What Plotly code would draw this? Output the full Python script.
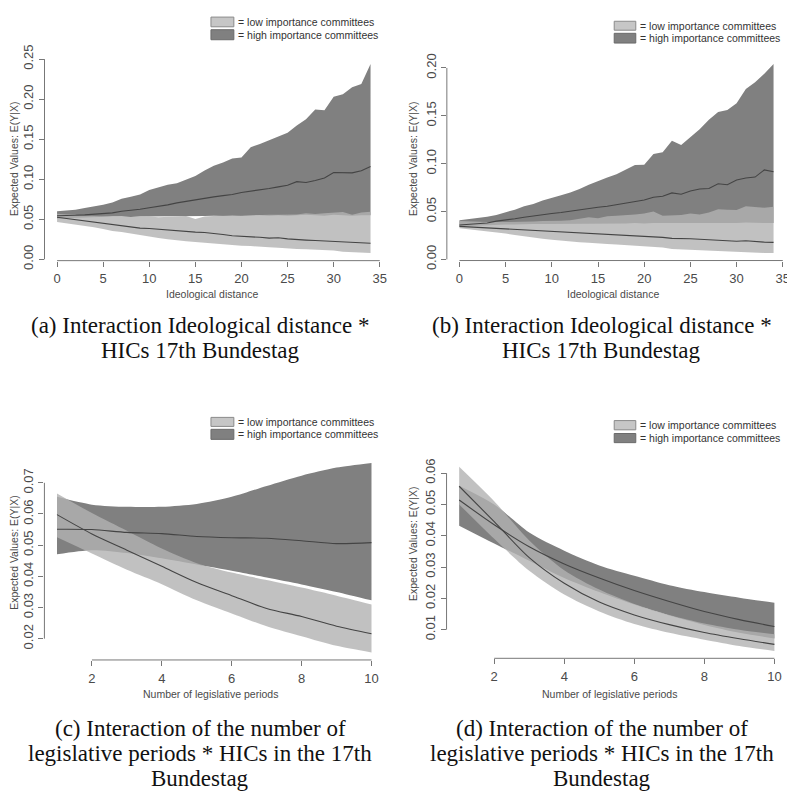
import plotly.graph_objects as go

# ---------------- data ----------------
# Panels (a) and (b): ideological distance 0..34
dist = list(range(0, 35))

a_high_upper = [0.060, 0.061, 0.062, 0.064, 0.066, 0.068, 0.071, 0.0755, 0.078, 0.081, 0.0865, 0.090, 0.093,
                0.095, 0.100, 0.104, 0.111, 0.117, 0.121, 0.126, 0.127, 0.140, 0.144, 0.149, 0.153, 0.158,
                0.167, 0.175, 0.187, 0.186, 0.203, 0.206, 0.215, 0.219, 0.244]
a_high_mean = [0.0545, 0.0545, 0.055, 0.0555, 0.0565, 0.0575, 0.058, 0.060, 0.061, 0.0625, 0.0645, 0.066,
               0.068, 0.0705, 0.0725, 0.0745, 0.076, 0.078, 0.0795, 0.081, 0.0835, 0.085, 0.087, 0.0885,
               0.0905, 0.0925, 0.097, 0.096, 0.0985, 0.1015, 0.1085, 0.108, 0.108, 0.1105, 0.116]
a_high_lower = [0.051, 0.0515, 0.052, 0.0525, 0.053, 0.053, 0.0535, 0.0535, 0.053, 0.0535, 0.0535, 0.054,
                0.0535, 0.054, 0.054, 0.0535, 0.054, 0.0545, 0.054, 0.0545, 0.054, 0.0545, 0.055, 0.0545,
                0.055, 0.0545, 0.055, 0.0555, 0.055, 0.0545, 0.0555, 0.055, 0.0545, 0.055, 0.055]
a_low_upper = [0.057, 0.056, 0.055, 0.0545, 0.054, 0.0535, 0.0535, 0.053, 0.053, 0.053, 0.0535, 0.0525,
               0.053, 0.0535, 0.054, 0.0505, 0.0535, 0.054, 0.0545, 0.054, 0.0545, 0.055, 0.0555, 0.0555,
               0.0555, 0.0555, 0.056, 0.0575, 0.0565, 0.0575, 0.0585, 0.059, 0.0555, 0.0585, 0.0595]
a_low_mean = [0.0525, 0.051, 0.0495, 0.048, 0.0465, 0.045, 0.044, 0.0425, 0.041, 0.039, 0.0385, 0.0375,
              0.0365, 0.0355, 0.0345, 0.034, 0.0335, 0.0325, 0.031, 0.0295, 0.029, 0.0285, 0.0275, 0.0265,
              0.027, 0.0255, 0.0245, 0.024, 0.0235, 0.023, 0.0225, 0.022, 0.0215, 0.0205, 0.020]
a_low_lower = [0.0465, 0.045, 0.0435, 0.0415, 0.040, 0.038, 0.0355, 0.034, 0.032, 0.030, 0.028, 0.0265,
               0.025, 0.0235, 0.0225, 0.0215, 0.0205, 0.0195, 0.0185, 0.0175, 0.017, 0.0165, 0.0155, 0.015,
               0.0145, 0.0135, 0.013, 0.0125, 0.012, 0.0115, 0.011, 0.0095, 0.009, 0.0085, 0.0078]

b_high_upper = [0.041, 0.042, 0.043, 0.0445, 0.0465, 0.049, 0.052, 0.0555, 0.058, 0.0615, 0.064, 0.067, 0.070,
                0.0735, 0.078, 0.082, 0.0855, 0.089, 0.094, 0.0985, 0.099, 0.110, 0.112, 0.124, 0.1195, 0.128,
                0.136, 0.146, 0.154, 0.156, 0.163, 0.178, 0.185, 0.194, 0.204]
b_high_mean = [0.036, 0.0365, 0.037, 0.038, 0.040, 0.041, 0.0425, 0.044, 0.0455, 0.047, 0.048, 0.049, 0.0505,
               0.052, 0.053, 0.0545, 0.0555, 0.057, 0.059, 0.0605, 0.062, 0.065, 0.066, 0.0695, 0.068, 0.0715,
               0.0735, 0.074, 0.079, 0.078, 0.083, 0.085, 0.086, 0.0935, 0.0915]
b_high_lower = [0.0345, 0.035, 0.0355, 0.036, 0.036, 0.0365, 0.0365, 0.037, 0.037, 0.037, 0.037, 0.0375,
                0.0375, 0.0375, 0.0375, 0.0375, 0.037, 0.0375, 0.0375, 0.038, 0.0375, 0.038, 0.038, 0.038,
                0.038, 0.038, 0.0375, 0.038, 0.038, 0.038, 0.038, 0.0385, 0.038, 0.038, 0.038]
b_low_upper = [0.040, 0.0395, 0.039, 0.039, 0.039, 0.039, 0.039, 0.0395, 0.0395, 0.040, 0.040, 0.0405, 0.041,
               0.0425, 0.044, 0.043, 0.045, 0.0455, 0.046, 0.047, 0.048, 0.050, 0.0455, 0.046, 0.0465, 0.048,
               0.047, 0.049, 0.0525, 0.052, 0.0515, 0.0555, 0.0545, 0.054, 0.055]
b_low_mean = [0.0345, 0.034, 0.0335, 0.033, 0.0325, 0.032, 0.0315, 0.031, 0.030, 0.0295, 0.029, 0.0285, 0.028,
              0.0275, 0.027, 0.0265, 0.026, 0.0255, 0.025, 0.0245, 0.0245, 0.024, 0.023, 0.022, 0.022, 0.0215,
              0.021, 0.0205, 0.020, 0.020, 0.019, 0.0195, 0.0185, 0.018, 0.0178]
b_low_lower = [0.0325, 0.0315, 0.030, 0.029, 0.028, 0.027, 0.0255, 0.024, 0.023, 0.0215, 0.0205, 0.0195, 0.019,
               0.018, 0.0175, 0.0165, 0.016, 0.0155, 0.015, 0.0145, 0.014, 0.0135, 0.0125, 0.011, 0.0105, 0.010,
               0.0095, 0.009, 0.0085, 0.0085, 0.008, 0.0075, 0.007, 0.0068, 0.0067]

# Panels (c) and (d): number of legislative periods 1..10
periods = list(range(1, 11))

c_high_upper = [0.0655, 0.0630, 0.0623, 0.0623, 0.0632, 0.0655, 0.0690, 0.0723, 0.0749, 0.0764]
c_high_mean = [0.0551, 0.0550, 0.0541, 0.0537, 0.0528, 0.0524, 0.0522, 0.0514, 0.0505, 0.0508]
c_high_lower = [0.0471, 0.0484, 0.0475, 0.0458, 0.0438, 0.0418, 0.0396, 0.0374, 0.0350, 0.0323]
c_low_upper = [0.0666, 0.0603, 0.0546, 0.0489, 0.0442, 0.0412, 0.0388, 0.0364, 0.0338, 0.0310]
c_low_mean = [0.0598, 0.0536, 0.0484, 0.0432, 0.0380, 0.0338, 0.0297, 0.0271, 0.0240, 0.0216]
c_low_lower = [0.0525, 0.0473, 0.0421, 0.0375, 0.0323, 0.0281, 0.0240, 0.0208, 0.0177, 0.0156]

d_high_upper = [0.0560, 0.0500, 0.0410, 0.0352, 0.0305, 0.0272, 0.0242, 0.0220, 0.0202, 0.0186]
d_high_mean = [0.0514, 0.0435, 0.0365, 0.0310, 0.0265, 0.0225, 0.0190, 0.0158, 0.0132, 0.0110]
d_high_lower = [0.0432, 0.0375, 0.0320, 0.0265, 0.0220, 0.0180, 0.0145, 0.0115, 0.0090, 0.0072]
d_low_upper = [0.0620, 0.0510, 0.0385, 0.0290, 0.0228, 0.0182, 0.0147, 0.0120, 0.0100, 0.0085]
d_low_mean = [0.0558, 0.0445, 0.0330, 0.0248, 0.0188, 0.0147, 0.0116, 0.0091, 0.0071, 0.0053]
d_low_lower = [0.0500, 0.0390, 0.0288, 0.0212, 0.0158, 0.0118, 0.0090, 0.0068, 0.0048, 0.0032]

x_ticks_dist = [0, 5, 10, 15, 20, 25, 30, 35]
x_ticks_per = [2, 4, 6, 8, 10]
y_ticks_a = [0.00, 0.05, 0.10, 0.15, 0.20, 0.25]
y_ticks_b = [0.00, 0.05, 0.10, 0.15, 0.20]
y_ticks_c = [0.02, 0.03, 0.04, 0.05, 0.06, 0.07]
y_ticks_d = [0.01, 0.02, 0.03, 0.04, 0.05, 0.06]

legend_labels = ["= low importance committees", "= high importance committees"]
y_title = "Expected Values: E(Y|X)"
x_title_dist = "Ideological distance"
x_title_per = "Number of legislative periods"
captions = {
    "a": ["(a) Interaction Ideological distance *", "HICs 17th Bundestag"],
    "b": ["(b) Interaction Ideological distance *", "HICs 17th Bundestag"],
    "c": ["(c) Interaction of the number of", "legislative periods * HICs in the 17th", "Bundestag"],
    "d": ["(d) Interaction of the number of", "legislative periods * HICs in the 17th", "Bundestag"],
}

# ---------------- style ----------------
# the page body has an 8px margin: the figure is drawn 8px smaller and all
# target pixel positions are shifted by that offset
OFF = 8
W, H = 795 - OFF, 802 - OFF
DARK = "rgb(128,128,128)"
LIGHT = "rgba(178,178,178,0.8)"
LINE = "#444444"
AXIS = "#777777"
TXT = "#4a4a4a"
SANS = "Liberation Sans, Arial, sans-serif"
SERIF = "Liberation Serif, Times New Roman, serif"


def px(p):
    return (p - OFF) / W


def py(p):
    return 1 - (p - OFF) / H


fig = go.Figure()

# pixel boxes of plot regions (page pixels): left, right, top, bottom
boxes = {
    "a": (44.7, 385.0, 45.4, 255.5),
    "b": (449.1, 790.1, 45.6, 255.4),
    "c": (44.6, 386.0, 455.7, 666.2),
    "d": (448.8, 791.0, 460.0, 664.5),
}

panels = [
    ("a", 1, dist, a_high_upper, a_high_mean, a_high_lower, a_low_upper, a_low_mean, a_low_lower,
     x_ticks_dist, y_ticks_a, "linear", x_title_dist),
    ("b", 2, dist, b_high_upper, b_high_mean, b_high_lower, b_low_upper, b_low_mean, b_low_lower,
     x_ticks_dist, y_ticks_b, "linear", x_title_dist),
    ("c", 3, periods, c_high_upper, c_high_mean, c_high_lower, c_low_upper, c_low_mean, c_low_lower,
     x_ticks_per, y_ticks_c, "spline", x_title_per),
    ("d", 4, periods, d_high_upper, d_high_mean, d_high_lower, d_low_upper, d_low_mean, d_low_lower,
     x_ticks_per, y_ticks_d, "spline", x_title_per),
]


def pad_range(vals):
    lo, hi = min(vals), max(vals)
    p = (hi - lo) * 0.04
    return [lo - p, hi + p]


shapes = []
annotations = []
for key, n, xs, hu, hm, hl, lu, lm, ll, xt, yt, shape, xtitle in panels:
    xa = "x" if n == 1 else f"x{n}"
    ya = "y" if n == 1 else f"y{n}"
    line_kw = dict(shape=shape, smoothing=0.8) if shape == "spline" else dict(shape="linear")

    # high importance band (dark)
    fig.add_trace(go.Scatter(x=xs, y=hl, mode="lines", line=dict(width=0, **line_kw),
                             showlegend=False, hoverinfo="skip", xaxis=xa, yaxis=ya))
    fig.add_trace(go.Scatter(x=xs, y=hu, mode="lines", line=dict(width=0, **line_kw), fill="tonexty",
                             fillcolor=DARK, showlegend=False, hoverinfo="skip", xaxis=xa, yaxis=ya))
    # low importance band (light, translucent)
    fig.add_trace(go.Scatter(x=xs, y=ll, mode="lines", line=dict(width=0, **line_kw),
                             showlegend=False, hoverinfo="skip", xaxis=xa, yaxis=ya))
    fig.add_trace(go.Scatter(x=xs, y=lu, mode="lines", line=dict(width=0, **line_kw), fill="tonexty",
                             fillcolor=LIGHT, showlegend=False, hoverinfo="skip", xaxis=xa, yaxis=ya))
    # mean lines
    fig.add_trace(go.Scatter(x=xs, y=hm, mode="lines", line=dict(color=LINE, width=1.1, **line_kw),
                             showlegend=False, xaxis=xa, yaxis=ya))
    fig.add_trace(go.Scatter(x=xs, y=lm, mode="lines", line=dict(color=LINE, width=1.1, **line_kw),
                             showlegend=False, xaxis=xa, yaxis=ya))

    left, right, top, bottom = boxes[key]
    xr = pad_range(xs)
    yr = pad_range(hu + hl + lu + ll)
    axis_common = dict(showgrid=False, zeroline=False, showline=False, ticks="outside", ticklen=5,
                       tickwidth=1, tickcolor=AXIS, tickfont=dict(family=SANS, size=13, color=TXT))
    fig.layout[("xaxis" if n == 1 else f"xaxis{n}")] = dict(
        domain=[px(left), px(right)], range=xr, anchor=ya, tickmode="array", tickvals=xt,
        ticktext=[str(v) for v in xt], ticklabelstandoff=1, **axis_common)
    fig.layout[("yaxis" if n == 1 else f"yaxis{n}")] = dict(
        domain=[py(bottom), py(top)], range=yr, anchor=xa, tickmode="array", tickvals=yt,
        ticktext=[f"{v:.2f}" for v in yt], tickangle=-90, **axis_common)

    # R-style axis lines spanning first..last tick
    shapes.append(dict(type="line", xref=xa, yref=f"{ya} domain", x0=xt[0], x1=xt[-1], y0=0, y1=0,
                       line=dict(color=AXIS, width=1)))
    shapes.append(dict(type="line", xref=f"{xa} domain", yref=ya, x0=0, x1=0, y0=yt[0], y1=yt[-1],
                       line=dict(color=AXIS, width=1)))

    # axis titles
    ylab_x = 14 if key in ("a", "c") else 415
    ylab_y = {"a": 150, "b": 150, "c": 555, "d": 546}[key]
    annotations.append(dict(text=y_title, xref="paper", yref="paper", x=px(ylab_x), y=py(ylab_y),
                            textangle=-90, showarrow=False, xanchor="center", yanchor="middle",
                            font=dict(family=SANS, size=10.5, color=TXT)))
    xlab_x = {"a": 213, "b": 616, "c": 212, "d": 613}[key]
    xlab_y = 290 if key in ("a", "b") else 701
    annotations.append(dict(text=xtitle, xref="paper", yref="paper", x=px(xlab_x), y=py(xlab_y),
                            showarrow=False, xanchor="center", yanchor="middle",
                            font=dict(family=SANS, size=10.5, color=TXT)))

# legends (drawn boxes + text)
legend_pos = {"a": (212, 235, 5, 15, 18, 28.3), "b": (617.3, 639, 9.3, 18.5, 21.7, 31.7),
              "c": (212, 235, 416.7, 426, 429, 439.3), "d": (617.3, 639, 420, 429.5, 433.3, 442.7)}
for key, (x0, x1, ly0, ly1, dy0, dy1) in legend_pos.items():
    shapes.append(dict(type="rect", xref="paper", yref="paper", x0=px(x0), x1=px(x1),
                       y0=py(ly1), y1=py(ly0), fillcolor="#c6c6c6", line=dict(color="#8a8a8a", width=1)))
    shapes.append(dict(type="rect", xref="paper", yref="paper", x0=px(x0), x1=px(x1),
                       y0=py(dy1), y1=py(dy0), fillcolor="#808080", line=dict(color="#6a6a6a", width=1)))
    for lab, yy in zip(legend_labels, [(ly0 + ly1) / 2, (dy0 + dy1) / 2]):
        annotations.append(dict(text=lab, xref="paper", yref="paper", x=px(x1 + 2.5), y=py(yy),
                                showarrow=False, xanchor="left", yanchor="middle",
                                font=dict(family=SANS, size=10.5, color="#333333")))

# captions
cap_pos = {"a": (201, [322, 347.5]), "b": (605, [322, 347.5]),
           "c": (201, [737, 762.5, 788]), "d": (605, [737, 762.5, 788])}
for key, (cx, ys) in cap_pos.items():
    for line, yy in zip(captions[key], ys):
        annotations.append(dict(text=line, xref="paper", yref="paper", x=px(cx), y=py(yy),
                                showarrow=False, xanchor="center", yanchor="middle", borderpad=0,
                                font=dict(family=SERIF, size=23, color="#111111")))

fig.update_layout(width=W, height=H, margin=dict(l=0, r=0, t=0, b=0), paper_bgcolor="white",
                  plot_bgcolor="white", showlegend=False, shapes=shapes, annotations=annotations)

fig.write_html("out.html")
